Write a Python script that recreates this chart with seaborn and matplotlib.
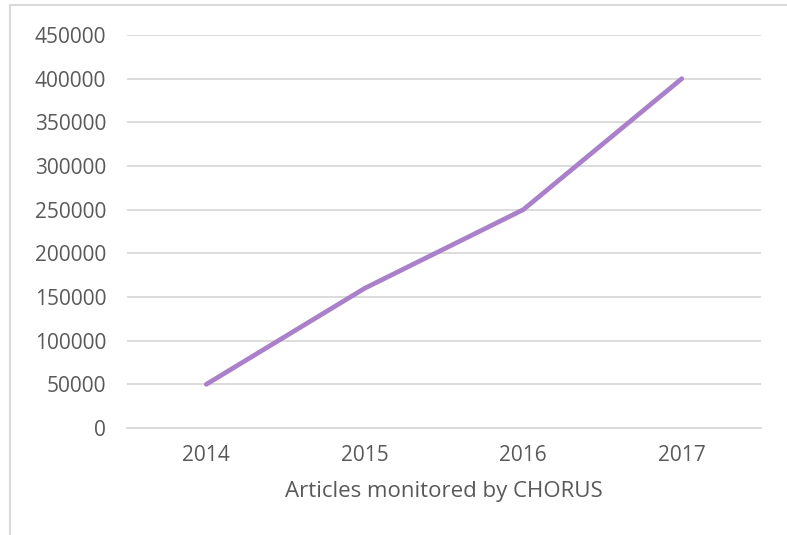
import matplotlib.pyplot as plt
import matplotlib.patches as patches
import pandas as pd
import seaborn as sns

# articles monitored by CHORUS per year
years = [2014, 2015, 2016, 2017]
articles = [50000, 160000, 250000, 400000]
y_ticks = list(range(0, 450001, 50000))

df = pd.DataFrame({"year": years, "articles": articles})

sns.set_theme(style="white")
plt.rcParams['font.family'] = ['Open Sans', 'DejaVu Sans']
text_col = "#595959"

fig = plt.figure(figsize=(7.87, 5.35), dpi=100)
ax = fig.add_axes([0.1614, 0.2, 0.8056, 0.7346])

sns.lineplot(data=df, x="year", y="articles", ax=ax, color="#AA80CA",
             linewidth=3.4, solid_capstyle="round")

ax.set_xlim(years[0] - 0.5, years[-1] + 0.5)
ax.set_ylim(0, 450000)
ax.set_xticks(years)
ax.set_xticklabels([str(y) for y in years])
ax.set_yticks(y_ticks)
ax.set_yticklabels([str(v) for v in y_ticks])
ax.yaxis.grid(True, color="#D9D9D9", linewidth=1.3)
ax.set_axisbelow(True)
for s in ax.spines.values():
    s.set_visible(False)
ax.spines['bottom'].set_visible(True)
ax.spines['bottom'].set_color("#D9D9D9")
ax.spines['bottom'].set_linewidth(1.3)
ax.tick_params(axis="both", length=0, labelsize=15, colors=text_col)
ax.tick_params(axis="y", pad=15)
ax.tick_params(axis="x", pad=12)
ax.set_ylabel("")
ax.set_xlabel("Articles monitored by CHORUS", fontsize=16, color=text_col, labelpad=11)

# chart border
fig.patches.append(patches.Rectangle((10 / 787, -0.1), 1.2, 1 - 5 / 535 + 0.1,
                                     transform=fig.transFigure, fill=False,
                                     edgecolor="#D9D9D9", linewidth=1.5))

fig.savefig("out.png", dpi=100)
